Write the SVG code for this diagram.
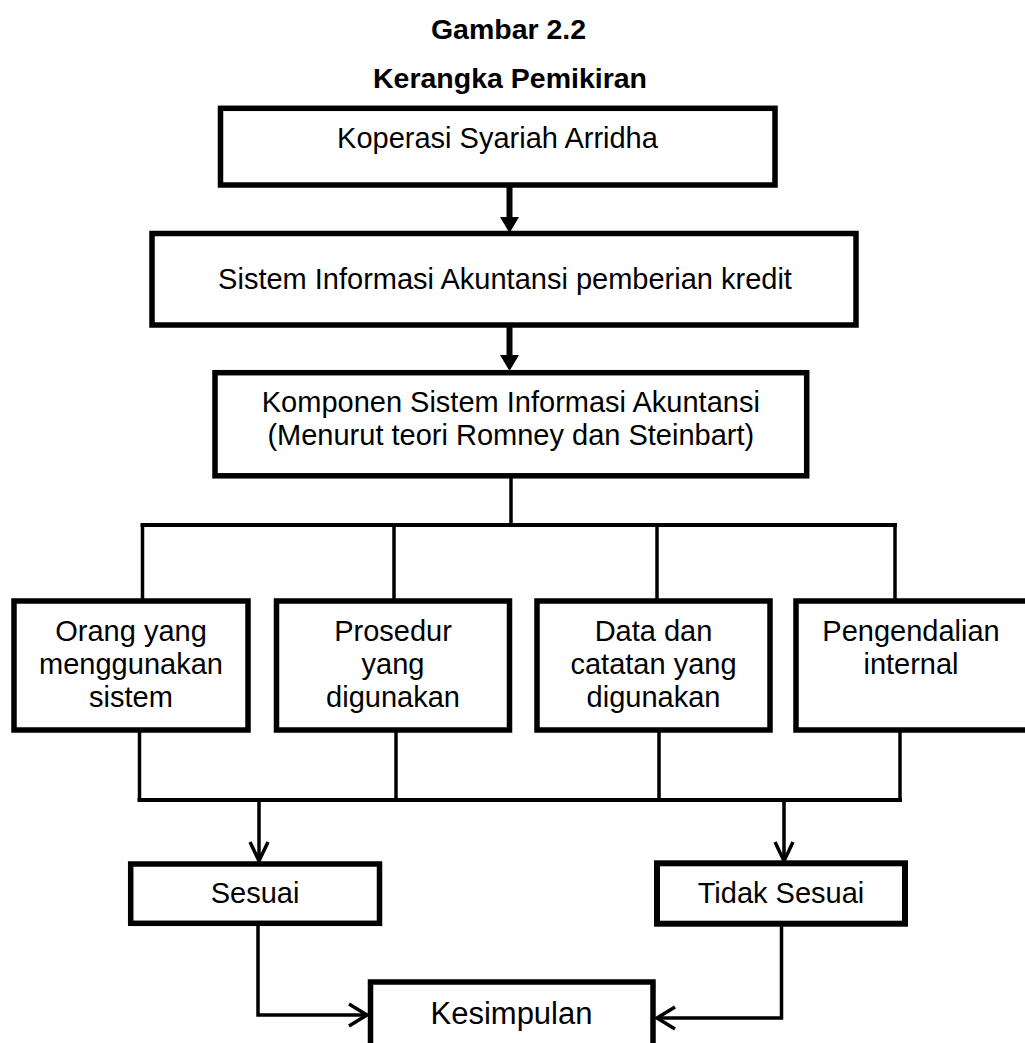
<svg xmlns="http://www.w3.org/2000/svg" width="1025" height="1043" viewBox="0 0 1025 1043">
<style>
.box{fill:#fff;stroke:#000;stroke-width:5.5}
.t{font-family:"Liberation Sans",Arial,sans-serif;font-size:29px;fill:#000;text-anchor:middle}
.title{font-family:"Liberation Sans",Arial,sans-serif;font-size:28.5px;font-weight:bold;fill:#000;text-anchor:middle}
.ln{fill:none;stroke:#000;stroke-width:3.5}
.thick{fill:none;stroke:#000;stroke-width:6}
.open{fill:none;stroke:#000;stroke-width:3.5;stroke-linejoin:miter}
</style>
<rect width="1025" height="1043" fill="#fff"/>
<g id="title">
<text class="title" x="508.5" y="39">Gambar 2.2</text>
<text class="title" x="510" y="88">Kerangka Pemikiran</text>
</g>
<g id="connectors">
<line class="thick" x1="509.5" y1="187" x2="509.5" y2="218"/>
<polygon points="500,217 519,217 509.5,233" fill="#000"/>
<line class="thick" x1="509.5" y1="327" x2="509.5" y2="356"/>
<polygon points="500,355 519,355 509.5,371" fill="#000"/>
<line class="ln" x1="511" y1="478" x2="511" y2="525"/>
<line class="ln" x1="140.5" y1="525" x2="897" y2="525" style="stroke-width:4"/>
<line class="ln" x1="142.5" y1="525" x2="142.5" y2="599"/>
<line class="ln" x1="394" y1="525" x2="394" y2="599"/>
<line class="ln" x1="657" y1="525" x2="657" y2="599"/>
<line class="ln" x1="895" y1="525" x2="895" y2="599"/>
<line class="ln" x1="139.5" y1="732" x2="139.5" y2="800"/>
<line class="ln" x1="396" y1="732" x2="396" y2="800"/>
<line class="ln" x1="659" y1="732" x2="659" y2="800"/>
<line class="ln" x1="900" y1="732" x2="900" y2="800"/>
<line class="ln" x1="137.5" y1="800" x2="902" y2="800" style="stroke-width:4"/>
<line class="ln" x1="259" y1="800" x2="259" y2="860"/>
<polyline class="open" points="250,842 259,861 268,842"/>
<line class="ln" x1="784" y1="800" x2="784" y2="860"/>
<polyline class="open" points="775,842 784,861 793,842"/>
<polyline class="ln" points="258,926 258,1015 366,1015"/>
<polyline class="open" points="349,1004 367,1015 349,1026"/>
<polyline class="ln" points="781.5,926 781.5,1018 658,1018"/>
<polyline class="open" points="675,1007 657,1018 675,1029"/>
</g>
<g id="node-koperasi">
<rect class="box" x="220.5" y="108.3" width="554.5" height="76.7"/>
<text class="t" x="497.5" y="148">Koperasi Syariah Arridha</text>
</g>
<g id="node-sia">
<rect class="box" x="152" y="233.5" width="704" height="91.5"/>
<text class="t" x="505" y="289">Sistem Informasi Akuntansi pemberian kredit</text>
</g>
<g id="node-komponen">
<rect class="box" x="215" y="372.7" width="591.7" height="103.1"/>
<text class="t" x="510.8" y="411.5">Komponen Sistem Informasi Akuntansi</text>
<text class="t" x="510.8" y="445">(Menurut teori Romney dan Steinbart)</text>
</g>
<g id="node-orang">
<rect class="box" x="14" y="601" width="234" height="129"/>
<text class="t" x="131" y="641">Orang yang</text>
<text class="t" x="131" y="674">menggunakan</text>
<text class="t" x="131" y="707">sistem</text>
</g>
<g id="node-prosedur">
<rect class="box" x="276.5" y="601" width="233" height="129"/>
<text class="t" x="393" y="641">Prosedur</text>
<text class="t" x="393" y="674">yang</text>
<text class="t" x="393" y="707">digunakan</text>
</g>
<g id="node-data">
<rect class="box" x="537" y="601" width="233" height="129"/>
<text class="t" x="653.5" y="641">Data dan</text>
<text class="t" x="653.5" y="674">catatan yang</text>
<text class="t" x="653.5" y="707">digunakan</text>
</g>
<g id="node-pengendalian">
<rect class="box" x="796" y="601" width="235" height="129"/>
<text class="t" x="911" y="641">Pengendalian</text>
<text class="t" x="911" y="674">internal</text>
</g>
<g id="node-sesuai">
<rect class="box" x="130.7" y="864" width="248.8" height="59.3"/>
<text class="t" x="255" y="903">Sesuai</text>
</g>
<g id="node-tidak-sesuai">
<rect class="box" x="657" y="863.3" width="248" height="60.4" style="stroke-width:6"/>
<text class="t" x="781" y="903">Tidak Sesuai</text>
</g>
<g id="node-kesimpulan">
<rect class="box" x="370.5" y="982" width="282.5" height="80"/>
<text class="t" x="511.5" y="1023.5" style="font-size:31px">Kesimpulan</text>
</g>
</svg>
